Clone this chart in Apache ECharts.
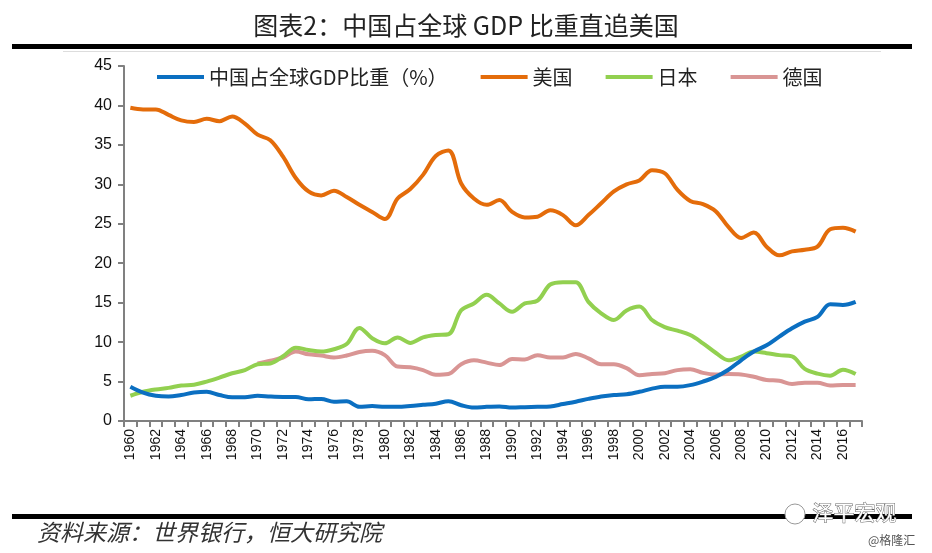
<!DOCTYPE html>
<html>
<head>
<meta charset="utf-8">
<script src="https://cdn.jsdelivr.net/npm/echarts@6/dist/echarts.min.js"></script>
<style>
html,body{margin:0;padding:0;background:#fff;}
#c{width:932px;height:553px;}
</style>
</head>
<body>
<div id="c"></div>
<script>
const years = [];
for (let y = 1960; y <= 2017; y++) years.push(String(y));

const china = [4.35,3.6,3.2,3.1,3.3,3.6,3.7,3.3,3.0,3.0,
  3.2,3.1,3.05,3.05,2.75,2.8,2.45,2.5,1.8,1.9,
  1.8,1.8,1.9,2.05,2.2,2.5,2.0,1.7,1.8,1.85,
  1.7,1.75,1.8,1.85,2.15,2.45,2.8,3.1,3.3,3.4,
  3.7,4.1,4.35,4.35,4.55,5.0,5.6,6.5,7.7,8.8,
  9.6,10.7,11.75,12.6,13.2,14.8,14.7,15.1];

const usa = [39.7,39.5,39.5,38.8,38.1,37.9,38.3,38.0,38.6,37.7,
  36.3,35.6,33.5,30.8,29.1,28.6,29.2,28.4,27.4,26.5,
  25.6,28.2,29.4,31.2,33.6,34.3,30.1,28.2,27.4,28.0,
  26.5,25.8,25.9,26.7,26.1,24.8,26.1,27.6,29.1,30.0,
  30.5,31.8,31.4,29.3,27.9,27.5,26.6,24.6,23.2,23.9,
  22.1,21.0,21.5,21.7,22.1,24.3,24.5,24.0];

const japan = [3.2,3.7,4.0,4.2,4.5,4.6,5.0,5.5,6.05,6.45,
  7.2,7.3,8.2,9.3,9.0,8.8,9.1,9.75,11.8,10.5,
  9.85,10.6,9.9,10.6,10.9,11.0,14.05,14.9,16.0,14.9,
  13.85,14.9,15.25,17.3,17.6,17.6,15.1,13.65,12.8,14.0,
  14.5,12.8,11.9,11.45,10.9,9.85,8.65,7.7,8.15,8.8,
  8.6,8.35,8.2,6.6,6.0,5.75,6.5,5.95];

const germany = [null,null,null,null,null,null,null,null,null,null,
  7.3,7.65,8.05,8.8,8.45,8.3,8.05,8.3,8.75,8.9,
  8.35,6.9,6.8,6.45,5.85,5.95,7.2,7.7,7.4,7.1,
  7.85,7.8,8.35,8.05,8.05,8.5,7.95,7.2,7.2,6.7,
  5.8,5.95,6.05,6.45,6.55,6.1,5.9,5.95,5.9,5.6,
  5.2,5.1,4.7,4.85,4.85,4.5,4.55,4.55];

const seriesNames = ['中国占全球GDP比重（%）','美国','日本','德国'];
const seriesColors = ['#0B6FC1','#E46C0A','#92D050','#D99594'];
const seriesData = [china, usa, japan, germany];

const chart = echarts.init(document.getElementById('c'));
const cjk = '"Noto Sans CJK SC", sans-serif';

chart.setOption({
  backgroundColor: '#fff',
  animation: false,
  title: {
    text: '图表2：中国占全球 GDP 比重直追美国',
    left: 'center',
    top: 8,
    textStyle: { fontFamily: cjk, fontSize: 25, fontWeight: 'normal', color: '#222' }
  },
  legend: {
    top: 62,
    left: 152,
    itemWidth: 47,
    itemHeight: 4,
    itemGap: 33,
    icon: 'rect',
    textStyle: { fontFamily: cjk, fontSize: 20, color: '#222', padding: [0, 0, 0, 0] },
    data: seriesNames
  },
  grid: { left: 124, right: 70, top: 66, bottom: 132, containLabel: false },
  xAxis: {
    type: 'category',
    data: years,
    boundaryGap: true,
    axisLine: { lineStyle: { color: '#808080', width: 2 } },
    axisTick: { show: true, interval: 0, length: 6, lineStyle: { color: '#808080', width: 2 } },
    axisLabel: { interval: 1, rotate: 90, fontSize: 14, color: '#111', fontFamily: 'Liberation Sans, Arial, sans-serif', margin: 8 },
    splitLine: { show: false }
  },
  yAxis: {
    type: 'value',
    min: 0, max: 45, interval: 5,
    axisLine: { show: true, lineStyle: { color: '#808080', width: 2 } },
    axisTick: { show: true, length: 6, lineStyle: { color: '#808080', width: 2 } },
    axisLabel: { fontSize: 16, color: '#111', fontFamily: 'Liberation Sans, Arial, sans-serif', margin: 12 },
    splitLine: { show: false }
  },
  series: seriesNames.map((n, i) => ({
    name: n,
    type: 'line',
    data: seriesData[i],
    smooth: 0.35,
    showSymbol: false,
    symbol: 'none',
    connectNulls: false,
    z: 10 - i,
    itemStyle: { color: seriesColors[i] },
    lineStyle: { color: seriesColors[i], width: 4 }
  })),
  graphic: [
    { type: 'rect', shape: { x: 12, y: 44, width: 900, height: 5 }, style: { fill: '#000' } },
    { type: 'rect', shape: { x: 63, y: 51, width: 818, height: 1 }, style: { fill: '#ddd' } },
    { type: 'rect', shape: { x: 12, y: 514, width: 900, height: 5 }, style: { fill: '#000' } },
    { type: 'text', left: 37, top: 521, style: { text: '资料来源：世界银行，恒大研究院', font: 'italic 23px "Noto Sans CJK SC", sans-serif', fill: '#333' } },
    { type: 'text', left: 812, top: 501, style: { text: '泽平宏观', font: '21px "Noto Sans CJK SC", sans-serif', fill: '#fff', stroke: '#666', lineWidth: 1 } },
    { type: 'circle', shape: { cx: 795, cy: 514, r: 10 }, style: { fill: '#fff', stroke: '#999', lineWidth: 1 } },
    { type: 'text', left: 868, top: 534, style: { text: '@格隆汇', font: '12px "Noto Sans CJK SC", sans-serif', fill: '#555' } }
  ]
});
</script>
</body>
</html>
